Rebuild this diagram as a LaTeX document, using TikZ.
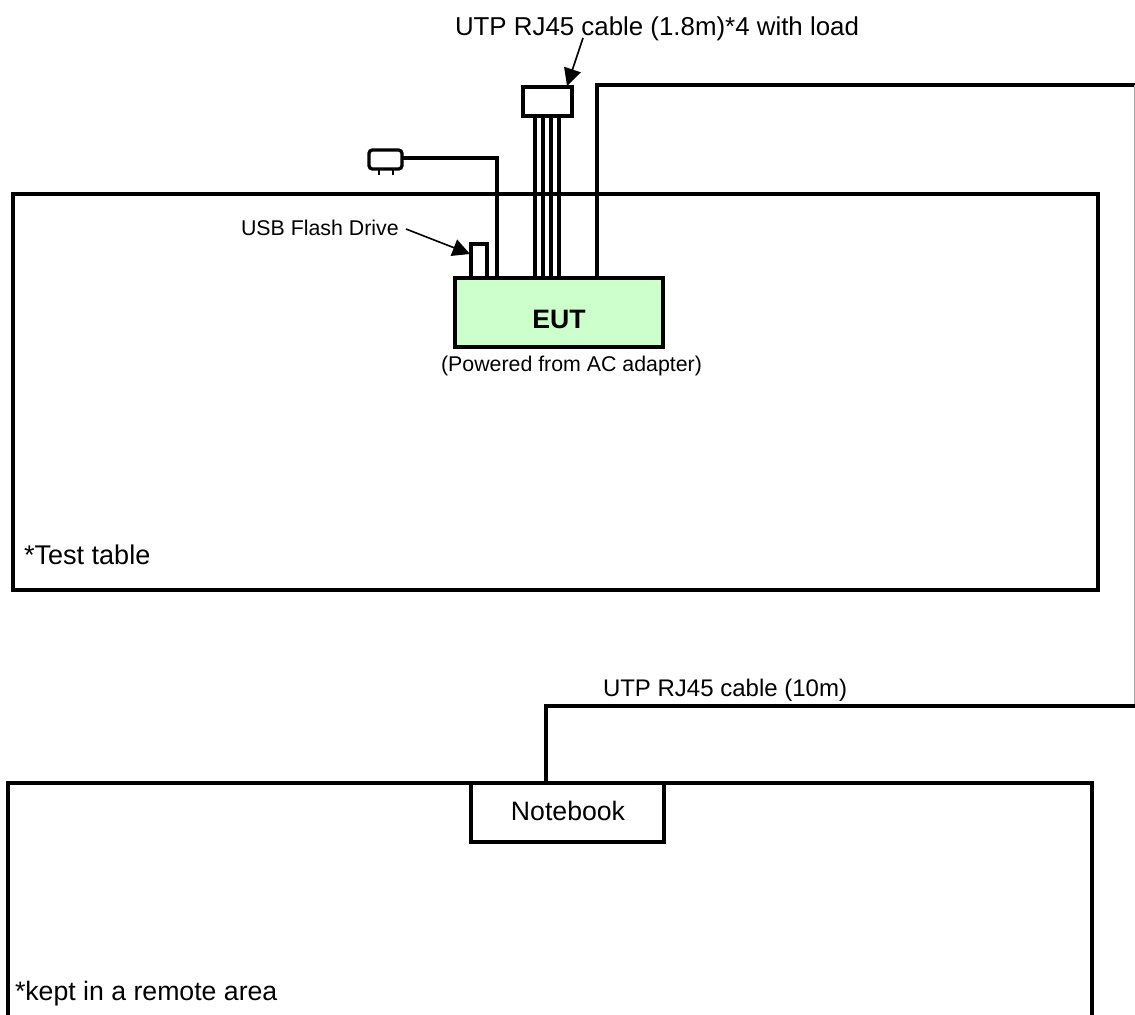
\documentclass[tikz,border=0pt]{standalone}
\usepackage{fontspec}
\setmainfont{Liberation Sans}
\usetikzlibrary{arrows.meta}
\definecolor{eutgreen}{RGB}{204,255,204}
\tikzset{
  x=0.75pt,y=-0.75pt,
  box/.style={draw=black,line width=2.45pt,fill=white,inner sep=0pt,outer sep=0pt,anchor=north west},
  wire/.style={draw=black,line width=2.45pt,line join=miter},
  callout/.style={draw=black,line width=1.2pt,-{Triangle[length=13pt,width=13pt]}},
  lab/.style={inner sep=0pt,outer sep=0pt,font=\fontsize{20}{24}\selectfont},
  smalllab/.style={inner sep=0pt,outer sep=0pt,font=\fontsize{16}{19}\selectfont},
}
\begin{document}
\begin{tikzpicture}
\useasboundingbox (0,0) rectangle (1135,1014);
\begin{scope}
\clip (0,0) rectangle (1135,1014);
% tables
\node[box,minimum width=1085*0.75pt,minimum height=396*0.75pt] (table) at (13,194) {};
\node[box,minimum width=1084*0.75pt,minimum height=260*0.75pt] (remote) at (8,783) {};
% connector block and plug
\node[box,minimum width=49*0.75pt,minimum height=29*0.75pt] (conn) at (523,87) {};
\node[box,rounded corners=2.5pt,minimum width=33*0.75pt,minimum height=19*0.75pt] (plug) at (369,150) {};
\coordinate (prongA) at (379,169);
\coordinate (prongB) at (393,169);
\coordinate (prongAe) at (379,175);
\coordinate (prongBe) at (393,175);
% EUT
\node[box,fill=eutgreen,minimum width=208*0.75pt,minimum height=69*0.75pt] (eut) at (455,278) {};
\node[font=\fontsize{20}{24}\selectfont\bfseries,inner sep=0pt] (eutlab) at (559,319) {EUT};
\node[box,minimum width=16*0.75pt,minimum height=34*0.75pt] (usb) at (471,244) {};
% Notebook
\node[box,minimum width=193*0.75pt,minimum height=59*0.75pt] (nb) at (471,783) {};
\node[lab] (nblab) at (568,811) {Notebook};
% wires
\coordinate (w1top) at (535,116); \coordinate (w1bot) at (535,278);
\coordinate (w2top) at (543,116); \coordinate (w2bot) at (543,278);
\coordinate (w3top) at (551,116); \coordinate (w3bot) at (551,278);
\coordinate (w4top) at (559,116); \coordinate (w4bot) at (559,278);
\draw[wire] (w1top) -- (w1bot);
\draw[wire] (w2top) -- (w2bot);
\draw[wire] (w3top) -- (w3bot);
\draw[wire] (w4top) -- (w4bot);
\coordinate (pw) at (402,158); \coordinate (pwc) at (497,158); \coordinate (pwe) at (497,278);
\draw[wire] (pw) -- (pwc) -- (pwe);
\draw[line width=1.8pt] (prongA) -- (prongAe);
\draw[line width=1.8pt] (prongB) -- (prongBe);
\coordinate (c0) at (597,278); \coordinate (c1) at (597,85); \coordinate (c2) at (1134.5,85);
\coordinate (c3) at (1134.5,706); \coordinate (c4) at (546,706); \coordinate (c5) at (546,783);
\draw[wire] (c0) -- (c1) -- (c2);
\draw[draw=black!35,line width=0.9pt] (c2) -- (c3);
\draw[wire] (c3) -- (c4) -- (c5);
% callouts
\coordinate (a1s) at (406,229); \coordinate (a1e) at (470,254);
\draw[callout] (a1s) -- (a1e);
\coordinate (a2s) at (583,38); \coordinate (a2e) at (567,86);
\draw[callout] (a2s) -- (a2e);
% labels
\node[lab,anchor=west,font=\fontsize{19.4}{24}\selectfont] (l1) at (455,29) {UTP RJ45 cable (1.8m)*4 with load};
\node[smalllab,anchor=west] (l2) at (241,228) {USB Flash Drive};
\node[smalllab] (l3) at (571.5,366) {(Powered from AC adapter)};
\node[lab,anchor=west,font=\fontsize{20.3}{24}\selectfont] (l4) at (24,555) {*Test table};
\node[smalllab,anchor=west,font=\fontsize{18}{22}\selectfont] (l5) at (603,690) {UTP RJ45 cable (10m)};
\node[lab,anchor=west] (l6) at (15,994) {*kept in a remote area};
\end{scope}
\end{tikzpicture}
\end{document}
